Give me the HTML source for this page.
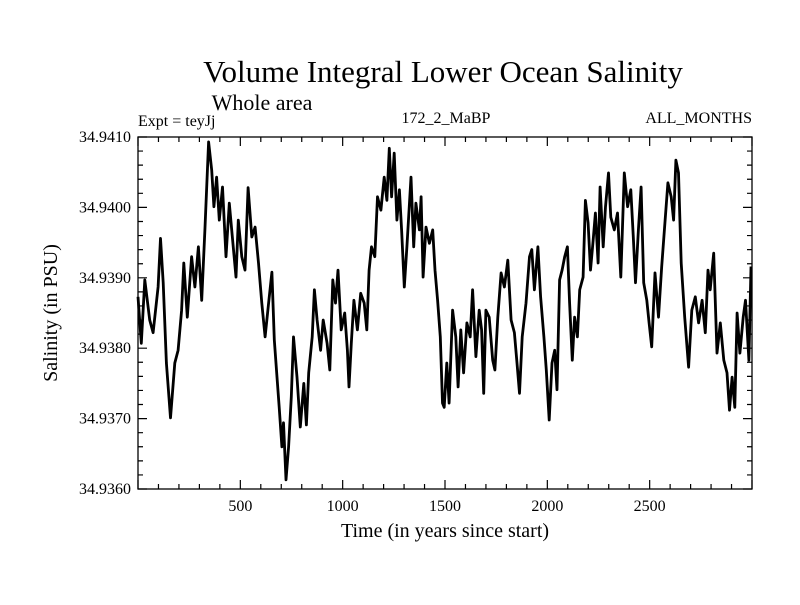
<!DOCTYPE html>
<html><head><meta charset="utf-8"><style>
body{margin:0;background:#fff;}
svg text{font-family:"Liberation Serif",serif;fill:#000;}
</style></head><body>
<svg id="chart" width="800" height="600" viewBox="0 0 800 600" xmlns="http://www.w3.org/2000/svg">
<text x="443" y="82" font-size="31" text-anchor="middle">Volume Integral Lower Ocean Salinity</text>
<text x="262" y="110" font-size="22" text-anchor="middle">Whole area</text>
<text x="138" y="126" font-size="16">Expt = teyJj</text>
<text x="446" y="123" font-size="16" text-anchor="middle">172_2_MaBP</text>
<text x="752" y="123" font-size="16" text-anchor="end">ALL_MONTHS</text>
<g id="axes"></g>
<path id="series" fill="none" stroke="#000" stroke-width="2.8" stroke-linejoin="round"/>
<rect x="138" y="137" width="614" height="352" fill="none" stroke="#000" stroke-width="1.3"/>
<text x="445" y="537" font-size="20" text-anchor="middle">Time (in years since start)</text>
<text transform="translate(57,313) rotate(-90)" font-size="20" text-anchor="middle">Salinity (in PSU)</text>
</svg>
<script>
const years=[0,16,33,57,74,98,110,123,139,159,180,196,213,224,241,262,278,295,311,327,345,360,371,384,397,413,430,446,462,479,490,507,523,538,556,572,589,605,621,638,654,666,679,690,703,711,723,736,749,760,777,793,810,823,834,851,862,875,892,905,924,937,952,965,977,993,1010,1023,1031,1042,1055,1072,1088,1105,1118,1129,1141,1157,1170,1187,1203,1216,1228,1239,1252,1265,1277,1288,1301,1314,1334,1347,1358,1375,1383,1393,1407,1424,1440,1451,1464,1477,1488,1496,1509,1520,1537,1553,1564,1577,1591,1607,1623,1635,1651,1667,1679,1689,1700,1716,1733,1744,1758,1774,1790,1807,1823,1839,1852,1864,1877,1896,1913,1924,1937,1954,1967,1983,1995,2009,2023,2036,2047,2060,2072,2085,2098,2109,2122,2133,2147,2158,2175,2186,2199,2211,2224,2235,2248,2258,2273,2284,2299,2310,2327,2343,2359,2376,2392,2408,2420,2431,2445,2458,2471,2486,2497,2510,2526,2543,2559,2572,2589,2605,2617,2628,2641,2654,2671,2690,2706,2723,2739,2756,2772,2785,2796,2813,2829,2845,2862,2878,2890,2903,2916,2927,2941,2957,2968,2985,2995];
// salinity anomaly above 34.9360 in units of 1e-4 PSU
const anom=[27.3,20.7,29.7,24,22.2,28.7,35.6,29.3,17.9,10.1,17.9,19.7,25.4,32.1,24.4,33,28.7,34.4,26.8,36.8,49.3,45.3,40.1,44.3,38.2,42.9,33,40.6,35.4,30.1,38.2,33,31.1,42.8,35.8,37.2,32.1,26.4,21.6,26.4,30.8,21.2,15.9,11.6,6,9.4,1.3,6,13.1,21.6,15.9,8.8,15,9.1,16.5,21.6,28.3,24,19.7,24,20.7,16.9,29.7,26.4,31.1,22.6,25,19.7,14.5,20.7,26.8,22.6,27.8,26.4,22.6,31.1,34.4,33,41.5,39.6,44.3,41,48.4,41.5,47.7,38.2,42.5,36.8,28.7,34.4,44.3,34.4,40.6,36.8,41.5,30.1,37.2,34.9,36.8,31.1,26.8,21.6,12.2,11.6,17.9,12.2,25.4,21.6,14.5,22.6,16.5,23.6,21.6,28.3,18.8,25.4,22.6,13.6,25.4,24.4,18.3,16.9,24.4,30.7,28.7,32.5,24,22.2,17.9,13.6,21.6,26.4,33,34,28.3,34.4,27.3,21.6,16.9,9.8,17.9,19.7,14.1,29.7,31.1,33,34.4,26.4,18.3,24.4,21.6,28.3,30.1,41,37.8,31.1,35.4,39.2,32.1,42.9,34.4,40.1,44.9,38.6,36.8,39.2,30.1,44.9,40.1,42.5,35.8,29.3,36.8,42.9,29.3,26.8,23.6,20.2,30.7,24.4,31.6,36.8,43.5,41.5,38.2,46.7,44.9,32.1,24.4,17.3,25.4,27.3,23.6,26.8,22.2,31.1,28.3,33.5,19.3,23.6,18.3,16.5,11.2,15.9,11.6,25,19.3,24.4,26.8,18.3,31.6];
const yTickVals=[34.936,34.937,34.938,34.939,34.940,34.941];
const yTickLabels=["34.9360","34.9370","34.9380","34.9390","34.9400","34.9410"];
const xTickVals=[500,1000,1500,2000,2500];
const xTickLabels=["500","1000","1500","2000","2500"];
const L=138,R=752,T=137,B=489,X0=0,X1=3000,Y0=34.936,Y1=34.941;
const sx=v=>L+(v-X0)/(X1-X0)*(R-L);
const sy=v=>B-(v-Y0)/(Y1-Y0)*(B-T);
const NS="http://www.w3.org/2000/svg";
const ax=document.getElementById('axes');
let d="";
function ln(x1,y1,x2,y2){d+="M"+x1+" "+y1+"L"+x2+" "+y2;}
for(let v=0;v<=3000;v+=100){const x=sx(v);const m=v%500===0;const l=m?9:5;ln(x,B,x,B-l);ln(x,T,x,T+l);}
for(let i=0;i<=25;i++){const v=Y0+i*0.0002;const y=sy(v);const m=i%5===0;const l=m?9:5;ln(L,y,L+l,y);ln(R,y,R-l,y);}
const tp=document.createElementNS(NS,'path');
tp.setAttribute('d',d);tp.setAttribute('stroke','#000');tp.setAttribute('stroke-width','1.2');tp.setAttribute('fill','none');


ax.appendChild(tp);
yTickVals.forEach((v,i)=>{const t=document.createElementNS(NS,'text');t.setAttribute('x',131);t.setAttribute('y',sy(v)+5);t.setAttribute('font-size','16');t.setAttribute('text-anchor','end');t.textContent=yTickLabels[i];


ax.appendChild(t);});
xTickVals.forEach((v,i)=>{const t=document.createElementNS(NS,'text');t.setAttribute('x',sx(v));t.setAttribute('y',511);t.setAttribute('font-size','16');t.setAttribute('text-anchor','middle');t.textContent=xTickLabels[i];


ax.appendChild(t);});
let p="";years.forEach((yr,i)=>{p+=(i?"L":"M")+sx(yr).toFixed(1)+" "+sy(Y0+anom[i]*1e-4).toFixed(1);});
document.getElementById('series').setAttribute('d',p);
</script>
</body></html>
